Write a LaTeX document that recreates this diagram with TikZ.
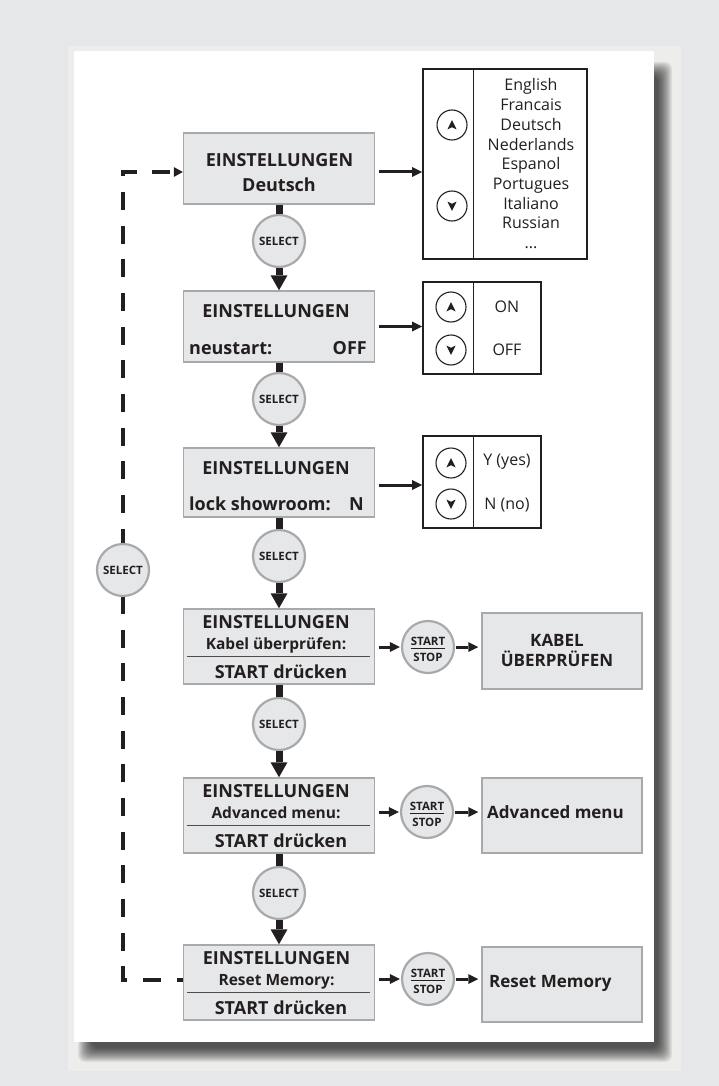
\documentclass[tikz,border=0pt]{standalone}
\usepackage{fontspec}
\setmainfont{Open Sans}
\usetikzlibrary{arrows.meta}

\definecolor{pagebg}{RGB}{230,231,232}
\definecolor{halo}{RGB}{237,237,235}
\definecolor{boxfill}{RGB}{230,231,232}
\definecolor{boxline}{RGB}{167,169,172}
\definecolor{ink}{RGB}{35,31,32}

\begin{document}
\begin{tikzpicture}[x=1pt,y=-1pt,
  mainbox/.style={draw=boxline, fill=boxfill, line width=1.5pt, inner sep=0pt, minimum width=191pt},
  resbox/.style={draw=boxline, fill=boxfill, line width=1.5pt, inner sep=0pt, minimum width=160pt, minimum height=75pt},
  optbox/.style={draw=ink, fill=white, line width=1.8pt, inner sep=0pt},
  keybtn/.style={circle, draw=ink, fill=white, line width=1.1pt, minimum size=30pt, inner sep=0pt},
  selbtn/.style={circle, draw=boxline, fill=boxfill, line width=2.2pt, minimum size=52pt, inner sep=0pt},
  txt/.style={inner sep=0pt, anchor=base, text=ink},
  big/.style={txt, font=\fontsize{18}{21}\selectfont\bfseries},
  mid/.style={txt, font=\fontsize{15.5}{18}\selectfont\bfseries},
  opt/.style={txt, font=\fontsize{16}{19}\selectfont},
  tiny/.style={txt, font=\fontsize{11.5}{13}\selectfont\bfseries},
  huge/.style={txt, font=\fontsize{17}{21}\selectfont\bfseries},
  feed/.style={draw=ink, line width=7pt},
  feedarrow/.style={draw=ink, line width=7pt, -{Triangle[length=15pt,width=17pt,line width=0pt]}},
  sidearrow/.style={draw=ink, line width=3pt, -{Triangle[length=10pt,width=10pt,line width=0pt]}},
  loopline/.style={draw=ink, line width=3.5pt, dash pattern=on 18pt off 15.67pt, dash phase=12pt,
                   -{Triangle[length=9pt,width=10pt,line width=0pt]}},
  uparrow/.pic={\fill[ink] (0,-5) -- (4.6,4.5) -- (0,2.2) -- (-4.6,4.5) -- cycle;},
  downarrow/.pic={\fill[ink] (0,5) -- (4.6,-4.5) -- (0,-2.2) -- (-4.6,-4.5) -- cycle;}
]

% page, soft frame, drop shadow and sheet
\fill[pagebg] (0,0) rectangle (719,1086);
\fill[halo] (68,46) rectangle (681,1071);
\foreach \k in {0,1,2,3,4,5,6,7,8,9,10,11,12,13,14}{
  \fill[black, opacity=0.062, rounded corners=7pt] (92-\k,76-\k) rectangle (658+\k,1048+\k);
}
\fill[white] (74,51) rectangle (654,1042);

% main settings screens
\node[mainbox, minimum height=71pt] (b1) at (279,168.5) {};
\node[mainbox, minimum height=71pt] (b2) at (279,326.5) {};
\node[mainbox, minimum height=69pt] (b3) at (279,482.5) {};
\node[mainbox, minimum height=75pt] (b4) at (279,646.5) {};
\node[mainbox, minimum height=75pt] (b5) at (279,815.5) {};
\node[mainbox, minimum height=75pt] (b6) at (279,982.5) {};

\coordinate (r4) at (0,656);
\coordinate (r5) at (0,825);
\coordinate (r6) at (0,992);

\node[big] (t1a) at (279.5,167) {EINSTELLUNGEN};
\node[big] (t1b) at (279,191) {Deutsch};

\node[big] (t2a) at (276,317) {EINSTELLUNGEN};
\node[big, anchor=base west] (t2b) at (189,354) {neustart:};
\node[big, anchor=base east] (t2c) at (367,354) {OFF};

\node[big] (t3a) at (276,474) {EINSTELLUNGEN};
\node[big, anchor=base west] (t3b) at (189,510) {lock showroom:};
\node[big, anchor=base east] (t3c) at (364,510) {N};

\node[big] (t4a) at (276,628) {EINSTELLUNGEN};
\node[mid] (t4b) at (276,649) {Kabel überprüfen:};
\node[big] (t4c) at (281,678) {START drücken};
\draw[ink!80, line width=1pt] ([xshift=4pt]b4.west |- r4) -- ([xshift=-5pt]b4.east |- r4);

\node[big] (t5a) at (276,797) {EINSTELLUNGEN};
\node[mid] (t5b) at (276,818) {Advanced menu:};
\node[big] (t5c) at (281,847) {START drücken};
\draw[ink!80, line width=1pt] ([xshift=4pt]b5.west |- r5) -- ([xshift=-5pt]b5.east |- r5);

\node[big] (t6a) at (276.5,964) {EINSTELLUNGEN};
\node[mid] (t6b) at (276.5,985) {Reset Memory:};
\node[big] (t6c) at (281,1014) {START drücken};
\draw[ink!80, line width=1pt] ([xshift=4pt]b6.west |- r6) -- ([xshift=-5pt]b6.east |- r6);

% SELECT buttons between the screens
\node[selbtn] (s1) at (279,241) {};
\node[selbtn] (s2) at (279,399) {};
\node[selbtn] (s3) at (279,556) {};
\node[selbtn] (s4) at (279,724) {};
\node[selbtn] (s5) at (279,893) {};

\draw[feed] (b1.south) -- (s1.north);
\draw[feedarrow] (s1.south) -- (b2.north);
\draw[feed] (b2.south) -- (s2.north);
\draw[feedarrow] (s2.south) -- (b3.north);
\draw[feed] (b3.south) -- (s3.north);
\draw[feedarrow] (s3.south) -- (b4.north);
\draw[feed] (b4.south) -- (s4.north);
\draw[feedarrow] (s4.south) -- (b5.north);
\draw[feed] (b5.south) -- (s5.north);
\draw[feedarrow] (s5.south) -- (b6.north);

% return loop from the last screen to the first
\coordinate (lt) at (123,172);
\coordinate (lb) at (123,980);
\draw[loopline] (b6.west |- lb) -- (lb) -- (lt) -- (b1.west |- lt);
\node[selbtn] (sl) at (123,570) {};

\node[tiny] (s1lbl) at (279,245) {SELECT};
\node[tiny] (s2lbl) at (279,403) {SELECT};
\node[tiny] (s3lbl) at (279,560) {SELECT};
\node[tiny] (s4lbl) at (279,728) {SELECT};
\node[tiny] (s5lbl) at (279,897) {SELECT};
\node[tiny] (sllbl) at (123,574) {SELECT};

% language choice
\node[optbox, minimum width=164pt, minimum height=190pt] (o1) at (505,164) {};
\draw[ink, line width=1pt] ([xshift=51pt]o1.north west) -- ([xshift=51pt]o1.south west);
\node[keybtn] (u1) at (452,125) {};
\node[keybtn] (d1) at (452,206) {};
\pic at (u1.center) {uparrow};
\pic at (d1.center) {downarrow};
\node[opt] (lang0) at (531,91) {English};
\node[opt] (lang1) at (531,110.7) {Francais};
\node[opt] (lang2) at (531,130.4) {Deutsch};
\node[opt] (lang3) at (531,150.1) {Nederlands};
\node[opt] (lang4) at (531,169.8) {Espanol};
\node[opt] (lang5) at (531,189.5) {Portugues};
\node[opt] (lang6) at (531,209.2) {Italiano};
\node[opt] (lang7) at (531,228.9) {Russian};
\node[opt] (lang8) at (531,248.6) {...};

% restart choice
\node[optbox, minimum width=118pt, minimum height=92pt] (o2) at (482,328) {};
\draw[ink, line width=1pt] ([xshift=51pt]o2.north west) -- ([xshift=51pt]o2.south west);
\node[keybtn] (u2) at (451,307) {};
\node[keybtn] (d2) at (451,350) {};
\pic at (u2.center) {uparrow};
\pic at (d2.center) {downarrow};
\node[opt] (on2) at (507,312) {ON};
\node[opt] (off2) at (507,355) {OFF};

% showroom lock choice
\node[optbox, minimum width=118pt, minimum height=92pt] (o3) at (482,482) {};
\draw[ink, line width=1pt] ([xshift=51pt]o3.north west) -- ([xshift=51pt]o3.south west);
\node[keybtn] (u3) at (451,463) {};
\node[keybtn] (d3) at (451,504) {};
\pic at (u3.center) {uparrow};
\pic at (d3.center) {downarrow};
\node[opt] (y3) at (507,465) {Y (yes)};
\node[opt] (n3) at (507,509) {N (no)};

\coordinate (a3) at (0,485);
\draw[sidearrow, shorten <=4pt] (b1.east |- lt) -- (o1.west |- lt);
\draw[sidearrow, shorten <=4pt] (b2.east) -- (o2.west |- b2.east);
\draw[sidearrow, shorten <=4pt] (b3.east |- a3) -- (o3.west |- a3);

% START/STOP actions
\node[selbtn] (ss1) at (428,647) {};
\node[selbtn] (ss2) at (427,812) {};
\node[selbtn] (ss3) at (428,979) {};
\foreach \s in {ss1,ss2,ss3}{
  \node[tiny] (\s a) at ([yshift=2pt]\s.center) {START};
  \draw[ink, line width=1.2pt] ([yshift=-3.5pt]\s a.south west) -- ([yshift=-3.5pt]\s a.south east);
  \node[tiny] (\s b) at ([yshift=-14.5pt]\s.center) {STOP};
}

\node[resbox, minimum height=76pt] (rk) at (562,651) {};
\node[resbox] (ra) at (562,815.5) {};
\node[resbox] (rr) at (562,984.5) {};
\node[huge] (rk1) at (557,646) {KABEL};
\node[huge] (rk2) at (557,666) {ÜBERPRÜFEN};
\node[huge, anchor=base west] (ra1) at (487,818) {Advanced menu};
\node[huge, anchor=base west] (rr1) at (489,987) {Reset Memory};

\draw[sidearrow, shorten <=4pt, shorten >=1pt] (b4.east |- ss1) -- (ss1.west);
\draw[sidearrow, shorten <=1pt, shorten >=3pt] (ss1.east) -- (rk.west |- ss1);
\draw[sidearrow, shorten <=4pt, shorten >=1pt] (b5.east |- ss2) -- (ss2.west);
\draw[sidearrow, shorten <=1pt, shorten >=3pt] (ss2.east) -- (ra.west |- ss2);
\draw[sidearrow, shorten <=4pt, shorten >=1pt] (b6.east |- ss3) -- (ss3.west);
\draw[sidearrow, shorten <=1pt, shorten >=3pt] (ss3.east) -- (rr.west |- ss3);

\end{tikzpicture}
\end{document}
